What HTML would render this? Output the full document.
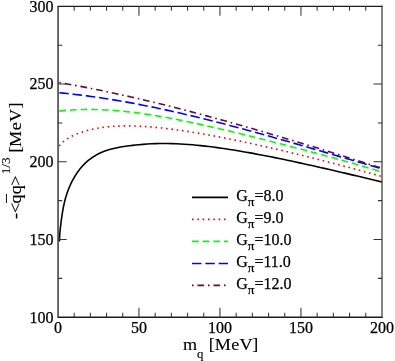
<!DOCTYPE html>
<html><head><meta charset="utf-8"><title>plot</title>
<style>
html,body{margin:0;padding:0;background:#fff;}
svg{display:block;will-change:transform;font-family:"Liberation Serif",serif;font-size:16px;fill:#000;}
text{stroke:#000;stroke-width:0.25px;}
.ax text{stroke-width:0.12px;}
</style></head>
<body>
<svg width="395" height="361" viewBox="0 0 395 361">
<rect width="395" height="361" fill="#fff"/>
<defs><clipPath id="c"><rect x="58.05" y="6.3" width="324.05" height="310.95"/></clipPath></defs>
<g fill="none" stroke-width="1.6" clip-path="url(#c)">
<path d="M59.41,241.52 L59.44,240.6 L59.48,239.72 L59.51,238.87 L59.55,238.07 L59.59,237.3 L59.63,236.56 L59.67,235.85 L59.71,235.17 L59.75,234.51 L59.8,233.87 L59.85,233.24 L59.9,232.63 L59.95,232.04 L60.01,231.45 L60.06,230.86 L60.12,230.28 L60.18,229.7 L60.24,229.11 L60.31,228.52 L60.38,227.92 L60.45,227.31 L60.52,226.68 L60.6,226.04 L60.68,225.37 L60.76,224.68 L60.85,223.97 L60.94,223.24 L61.03,222.48 L61.13,221.71 L61.23,220.91 L61.34,220.1 L61.45,219.27 L61.56,218.42 L61.68,217.56 L61.8,216.69 L61.93,215.8 L62.07,214.9 L62.2,213.99 L62.35,213.07 L62.5,212.14 L62.65,211.21 L62.82,210.27 L62.98,209.32 L63.16,208.37 L63.34,207.42 L63.53,206.46 L63.73,205.51 L63.94,204.55 L64.15,203.59 L64.37,202.63 L64.6,201.67 L64.84,200.71 L65.09,199.75 L65.35,198.78 L65.62,197.81 L65.9,196.84 L66.2,195.87 L66.5,194.9 L66.82,193.92 L67.14,192.94 L67.49,191.96 L67.84,190.97 L68.21,189.99 L68.6,188.99 L69,188 L69.41,187 L69.85,185.99 L70.3,184.98 L70.76,183.97 L71.25,182.95 L71.76,181.93 L72.28,180.9 L72.83,179.87 L73.4,178.83 L73.99,177.79 L74.61,176.74 L75.25,175.69 L75.92,174.63 L76.61,173.57 L77.33,172.51 L78.08,171.45 L78.86,170.39 L79.67,169.34 L80.51,168.29 L81.39,167.25 L82.3,166.21 L83.25,165.19 L84.24,164.17 L85.26,163.17 L86.33,162.18 L87.44,161.2 L88.59,160.24 L89.79,159.3 L91.04,158.37 L92.34,157.47 L93.69,156.58 L95.1,155.72 L96.56,154.89 L98.08,154.08 L99.66,153.29 L101.3,152.54 L103.01,151.81 L104.78,151.12 L106.63,150.46 L108.56,149.83 L110.55,149.24 L112.63,148.68 L114.8,148.16 L117.05,147.68 L119.38,147.24 L121.82,146.82 L124.35,146.43 L126.98,146.06 L129.72,145.71 L132.56,145.37 L135.52,145.05 L138.6,144.74 L139,144.7 L143.12,144.34 L147.24,144.03 L151.36,143.8 L155.47,143.63 L159.59,143.54 L163.71,143.5 L167.83,143.52 L171.95,143.6 L176.07,143.74 L180.19,143.93 L184.31,144.18 L188.42,144.48 L192.54,144.82 L196.66,145.21 L200.78,145.64 L204.9,146.08 L209.02,146.57 L213.14,147.08 L217.25,147.63 L221.37,148.2 L225.49,148.81 L229.61,149.43 L233.73,150.08 L237.85,150.76 L241.97,151.46 L246.08,152.17 L250.2,152.91 L254.32,153.66 L258.44,154.43 L262.56,155.21 L266.68,156.01 L270.8,156.82 L274.92,157.65 L279.03,158.49 L283.15,159.34 L287.27,160.2 L291.39,161.07 L295.51,161.96 L299.63,162.85 L303.75,163.75 L307.86,164.66 L311.98,165.58 L316.1,166.5 L320.22,167.43 L324.34,168.37 L328.46,169.31 L332.58,170.27 L336.69,171.22 L340.81,172.18 L344.93,173.15 L349.05,174.12 L353.17,175.1 L357.29,176.08 L361.41,177.06 L365.53,178.05 L369.64,179.04 L373.76,180.04 L377.88,181.03 L382,182.03" stroke="#000"/>
<path d="M59.3,146.11 L60.67,144.36 L62.04,142.92 L63.4,141.68 L64.77,140.58 L66.14,139.58 L67.51,138.67 L68.87,137.83 L70.24,137.05 L71.61,136.32 L72.98,135.64 L74.35,135.01 L75.71,134.41 L77.08,133.84 L78.45,133.31 L79.82,132.8 L81.18,132.32 L82.55,131.87 L83.92,131.44 L85.29,131.04 L86.66,130.65 L88.02,130.29 L89.39,129.94 L90.76,129.62 L92.13,129.31 L93.49,129.01 L94.86,128.74 L96.23,128.48 L97.6,128.23 L98.97,128 L100.33,127.79 L101.7,127.58 L103.07,127.39 L104.44,127.22 L105.81,127.05 L107.17,126.9 L108.54,126.76 L109.91,126.63 L111.28,126.51 L112.64,126.41 L114.01,126.31 L115.38,126.22 L116.75,126.15 L118.12,126.08 L119.48,126.03 L120.85,125.98 L122.22,125.95 L123.59,125.92 L124.95,125.9 L126.32,125.89 L127.69,125.89 L129.06,125.9 L130.43,125.91 L131.79,125.94 L133.16,125.97 L134.53,126 L135.9,126.05 L137.26,126.1 L138.63,126.16 L140,126.22 L141,126.27 L145.08,126.52 L149.17,126.81 L153.25,127.15 L157.34,127.53 L161.42,127.95 L165.51,128.41 L169.59,128.9 L173.68,129.43 L177.76,129.98 L181.85,130.57 L185.93,131.18 L190.02,131.81 L194.1,132.47 L198.19,133.15 L202.27,133.85 L206.36,134.58 L210.44,135.32 L214.53,136.07 L218.61,136.85 L222.69,137.64 L226.78,138.45 L230.86,139.27 L234.95,140.1 L239.03,140.95 L243.12,141.81 L247.2,142.68 L251.29,143.56 L255.37,144.45 L259.46,145.35 L263.54,146.27 L267.63,147.19 L271.71,148.12 L275.8,149.06 L279.88,150.02 L283.97,150.98 L288.05,151.95 L292.14,152.93 L296.22,153.92 L300.31,154.92 L304.39,155.93 L308.47,156.95 L312.56,157.97 L316.64,159.01 L320.73,160.05 L324.81,161.1 L328.9,162.16 L332.98,163.23 L337.07,164.3 L341.15,165.38 L345.24,166.47 L349.32,167.56 L353.41,168.66 L357.49,169.77 L361.58,170.88 L365.66,171.99 L369.75,173.11 L373.83,174.23 L377.92,175.36 L382,176.49" stroke="#f00" stroke-dasharray="1.6 3.73"/>
<path d="M59.3,111.09 L63.28,110.65 L67.27,110.29 L71.25,109.98 L75.24,109.75 L79.22,109.57 L83.2,109.46 L87.19,109.4 L91.17,109.4 L95.16,109.46 L99.14,109.57 L103.12,109.72 L107.11,109.93 L111.09,110.18 L115.08,110.47 L119.06,110.81 L123.04,111.19 L127.03,111.61 L131.01,112.06 L135,112.55 L138.98,113.08 L142.96,113.63 L146.95,114.22 L150.93,114.83 L154.91,115.48 L158.9,116.15 L162.88,116.84 L166.87,117.56 L170.85,118.3 L174.83,119.07 L178.82,119.85 L182.8,120.65 L186.79,121.47 L190.77,122.31 L194.75,123.16 L198.74,124.02 L202.72,124.9 L206.71,125.8 L210.69,126.7 L214.67,127.62 L218.66,128.54 L222.64,129.48 L226.63,130.43 L230.61,131.38 L234.59,132.34 L238.58,133.31 L242.56,134.29 L246.55,135.27 L250.53,136.26 L254.51,137.25 L258.5,138.25 L262.48,139.25 L266.47,140.26 L270.45,141.27 L274.43,142.29 L278.42,143.31 L282.4,144.34 L286.39,145.37 L290.37,146.4 L294.35,147.44 L298.34,148.48 L302.32,149.53 L306.3,150.58 L310.29,151.64 L314.27,152.7 L318.26,153.77 L322.24,154.84 L326.22,155.92 L330.21,157.01 L334.19,158.1 L338.18,159.2 L342.16,160.31 L346.14,161.43 L350.13,162.56 L354.11,163.69 L358.1,164.84 L362.08,166.01 L366.06,167.18 L370.05,168.37 L374.03,169.57 L378.02,170.79 L382,172.02" stroke="#0f0" stroke-dasharray="6.75 3.92"/>
<path d="M59.3,92.73 L63.28,93.12 L67.27,93.53 L71.25,93.96 L75.24,94.42 L79.22,94.89 L83.2,95.39 L87.19,95.91 L91.17,96.45 L95.16,97 L99.14,97.58 L103.12,98.18 L107.11,98.8 L111.09,99.43 L115.08,100.09 L119.06,100.76 L123.04,101.45 L127.03,102.16 L131.01,102.89 L135,103.63 L138.98,104.39 L142.96,105.17 L146.95,105.96 L150.93,106.76 L154.91,107.59 L158.9,108.42 L162.88,109.27 L166.87,110.14 L170.85,111.02 L174.83,111.91 L178.82,112.82 L182.8,113.74 L186.79,114.67 L190.77,115.62 L194.75,116.57 L198.74,117.54 L202.72,118.52 L206.71,119.51 L210.69,120.51 L214.67,121.52 L218.66,122.54 L222.64,123.57 L226.63,124.61 L230.61,125.66 L234.59,126.71 L238.58,127.78 L242.56,128.85 L246.55,129.93 L250.53,131.02 L254.51,132.12 L258.5,133.22 L262.48,134.32 L266.47,135.44 L270.45,136.56 L274.43,137.68 L278.42,138.81 L282.4,139.94 L286.39,141.08 L290.37,142.22 L294.35,143.37 L298.34,144.52 L302.32,145.67 L306.3,146.82 L310.29,147.98 L314.27,149.14 L318.26,150.3 L322.24,151.46 L326.22,152.62 L330.21,153.78 L334.19,154.95 L338.18,156.11 L342.16,157.27 L346.14,158.43 L350.13,159.59 L354.11,160.75 L358.1,161.91 L362.08,163.07 L366.06,164.22 L370.05,165.37 L374.03,166.51 L378.02,167.66 L382,168.8" stroke="#00f" stroke-dasharray="9.5 3.83"/>
<path d="M59.3,82.54 L63.28,83.23 L67.27,83.94 L71.25,84.67 L75.24,85.4 L79.22,86.15 L83.2,86.91 L87.19,87.69 L91.17,88.47 L95.16,89.27 L99.14,90.08 L103.12,90.9 L107.11,91.74 L111.09,92.58 L115.08,93.44 L119.06,94.31 L123.04,95.18 L127.03,96.07 L131.01,96.97 L135,97.88 L138.98,98.8 L142.96,99.73 L146.95,100.67 L150.93,101.62 L154.91,102.58 L158.9,103.55 L162.88,104.53 L166.87,105.52 L170.85,106.52 L174.83,107.53 L178.82,108.54 L182.8,109.56 L186.79,110.6 L190.77,111.64 L194.75,112.68 L198.74,113.74 L202.72,114.8 L206.71,115.88 L210.69,116.95 L214.67,118.04 L218.66,119.13 L222.64,120.24 L226.63,121.34 L230.61,122.46 L234.59,123.58 L238.58,124.7 L242.56,125.84 L246.55,126.98 L250.53,128.12 L254.51,129.27 L258.5,130.43 L262.48,131.59 L266.47,132.76 L270.45,133.93 L274.43,135.11 L278.42,136.29 L282.4,137.47 L286.39,138.66 L290.37,139.86 L294.35,141.06 L298.34,142.26 L302.32,143.47 L306.3,144.68 L310.29,145.89 L314.27,147.11 L318.26,148.33 L322.24,149.55 L326.22,150.78 L330.21,152.01 L334.19,153.24 L338.18,154.47 L342.16,155.71 L346.14,156.95 L350.13,158.19 L354.11,159.43 L358.1,160.67 L362.08,161.92 L366.06,163.17 L370.05,164.41 L374.03,165.66 L378.02,166.91 L382,168.16" stroke="#670748" stroke-dasharray="1.6 3.85 6.7 3.85"/>
</g>
<g fill="none" stroke-width="1.6">
<path d="M192,197.4H228" stroke="#000"/>
<path d="M192,219.4H228" stroke="#f00" stroke-dasharray="1.6 3.73"/>
<path d="M192,241.4H228" stroke="#0f0" stroke-dasharray="6.75 3.92"/>
<path d="M192,263.5H228" stroke="#00f" stroke-dasharray="9.5 3.83"/>
<path d="M192,285.4H228" stroke="#670748" stroke-dasharray="1.6 3.85 6.7 3.85"/>
</g>
<g fill="none" stroke="#1c1c1c" stroke-width="1.3">
<path d="M382.1,6.3H58.05V317.25H382.1" stroke-linecap="square"/>
<path d="M382.0,6.3V317.25" stroke-width="1.25" stroke="#3a3a3a" stroke-linecap="square"/>
<path d="M74.15,317.25v-4.5M74.15,6.3v4.5M90.35,317.25v-4.5M90.35,6.3v4.5M106.55,317.25v-4.5M106.55,6.3v4.5M122.75,317.25v-4.5M122.75,6.3v4.5M138.95,317.25v-9.4M138.95,6.3v9.4M155.15,317.25v-4.5M155.15,6.3v4.5M171.35,317.25v-4.5M171.35,6.3v4.5M187.55,317.25v-4.5M187.55,6.3v4.5M203.75,317.25v-4.5M203.75,6.3v4.5M219.95,317.25v-9.4M219.95,6.3v9.4M236.15,317.25v-4.5M236.15,6.3v4.5M252.35,317.25v-4.5M252.35,6.3v4.5M268.55,317.25v-4.5M268.55,6.3v4.5M284.75,317.25v-4.5M284.75,6.3v4.5M300.95,317.25v-9.4M300.95,6.3v9.4M317.15,317.25v-4.5M317.15,6.3v4.5M333.35,317.25v-4.5M333.35,6.3v4.5M349.55,317.25v-4.5M349.55,6.3v4.5M365.75,317.25v-4.5M365.75,6.3v4.5M58.05,278.38h4.2M382.1,278.38h-4.2M58.05,239.51h8.6M382.1,239.51h-8.6M58.05,200.64h4.2M382.1,200.64h-4.2M58.05,161.78h8.6M382.1,161.78h-8.6M58.05,122.91h4.2M382.1,122.91h-4.2M58.05,84.04h8.6M382.1,84.04h-8.6M58.05,45.17h4.2M382.1,45.17h-4.2" stroke-width="1.05" stroke="#333"/>
</g>
<g><text x="57.95" y="332.65" text-anchor="middle">0</text><text x="138.95" y="332.65" text-anchor="middle">50</text><text x="219.95" y="332.65" text-anchor="middle">100</text><text x="300.95" y="332.65" text-anchor="middle">150</text><text x="381.95" y="332.65" text-anchor="middle">200</text></g>
<g><text x="53.6" y="322.5" text-anchor="end">100</text><text x="53.6" y="244.78" text-anchor="end">150</text><text x="53.6" y="167.05" text-anchor="end">200</text><text x="53.6" y="89.32" text-anchor="end">250</text><text x="53.6" y="11.6" text-anchor="end">300</text></g>
<text x="236.2" y="200.7">G<tspan font-size="13.2" dy="5.2">π</tspan><tspan dy="-5.2">=8.0</tspan></text>
<text x="236.2" y="222.7">G<tspan font-size="13.2" dy="5.2">π</tspan><tspan dy="-5.2">=9.0</tspan></text>
<text x="236.2" y="244.7">G<tspan font-size="13.2" dy="5.2">π</tspan><tspan dy="-5.2">=10.0</tspan></text>
<text x="236.2" y="266.8">G<tspan font-size="13.2" dy="5.2">π</tspan><tspan dy="-5.2">=11.0</tspan></text>
<text x="236.2" y="288.7">G<tspan font-size="13.2" dy="5.2">π</tspan><tspan dy="-5.2">=12.0</tspan></text>

<g font-size="16.5" class="ax">
<g transform="translate(220.6,350.1) scale(1.1,1)">
<text x="0" y="0" text-anchor="middle">m<tspan font-size="11.7" dy="7.4">q</tspan><tspan dy="-7.4" dx="0.6"> [</tspan><tspan dx="0.1">M</tspan><tspan dx="0.3">e</tspan><tspan dx="0.15">V</tspan><tspan dx="-0.3">]</tspan></text>
</g>
<g transform="translate(20.6,160.7) rotate(-90) scale(1.1,1)">
<text x="0" y="0" text-anchor="middle">-&lt;<tspan dx="-0.65">qq</tspan><tspan dx="-0.35">&gt;</tspan><tspan font-size="12.1" dy="-10.7" dx="1.0">1/3</tspan><tspan dy="10.7" dx="0.4"> [</tspan><tspan dx="-0.5">M</tspan><tspan dx="0.45">e</tspan><tspan dx="0.27">V</tspan><tspan dx="0.35">]</tspan></text>
<path d="M-38.45,-14.15h8.2" stroke="#000" stroke-width="0.9" fill="none"/>
</g>
</g>
</svg>
</body></html>
